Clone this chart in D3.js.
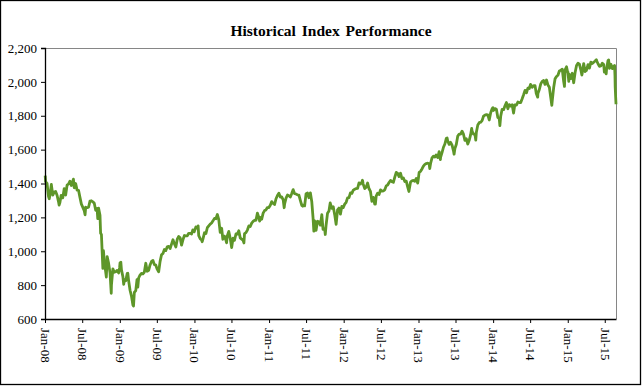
<!DOCTYPE html>
<html>
<head>
<meta charset="utf-8">
<script src="https://cdn.jsdelivr.net/npm/d3@7"></script>
<style>
  body { margin: 0; background: #fff; }
  #chart { width: 642px; height: 386px; }
  text { font-family: "Liberation Serif", "Times New Roman", serif; fill: #000; }
</style>
</head>
<body>
<div id="chart"></div>
<script>
// Data (approximate closes, [mm-dd, value])
const y2008 = [
  ["01-02",1447],["01-04",1411],["01-11",1401],["01-18",1325],["01-22",1310],["01-25",1330],
  ["02-01",1395],["02-08",1331],["02-15",1349],["02-22",1353],["02-29",1331],["03-07",1293],
  ["03-10",1273],["03-14",1288],["03-20",1330],["03-28",1315],["04-04",1370],["04-11",1332],
  ["04-18",1390],["04-25",1397],["05-02",1414],["05-09",1388],["05-19",1426],["05-23",1375],
  ["05-30",1400],["06-06",1361],["06-13",1360],["06-20",1318],["06-27",1278],["07-03",1262],
  ["07-11",1239],["07-15",1215],["07-18",1260],["07-25",1257],["08-01",1260],["08-08",1296],
  ["08-15",1298],["08-22",1292],["08-29",1283],["09-05",1242],["09-12",1252],["09-15",1193],
  ["09-19",1255],["09-26",1213],["09-29",1106],["10-03",1099],["10-10",899],["10-13",1003],
  ["10-17",940],["10-24",877],["10-27",848],["10-31",968],["11-07",930],["11-14",873],
  ["11-20",752],["11-21",800],["11-28",896],["12-05",876],["12-12",879],["12-19",887],
  ["12-26",872],["12-31",903]
];
const y2009 = [
  ["01-02",931],["01-06",935],["01-09",890],["01-16",850],["01-20",805],["01-23",832],
  ["01-30",826],["02-06",869],["02-09",870],["02-13",827],["02-20",770],["02-27",735],
  ["03-06",683],["03-09",677],["03-13",757],["03-20",768],["03-26",832],["03-30",788],
  ["04-03",842],["04-09",857],["04-17",869],["04-24",866],["05-01",877],["05-08",929],
  ["05-15",882],["05-22",887],["05-29",919],["06-05",940],["06-12",946],["06-19",921],
  ["06-26",918],["07-02",896],["07-10",879],["07-17",940],["07-24",979],["07-31",987],
  ["08-07",1010],["08-14",1004],["08-21",1026],["08-28",1029],["09-04",1016],["09-11",1042],
  ["09-18",1068],["09-25",1044],["10-02",1025],["10-09",1071],["10-16",1087],["10-23",1079],
  ["10-30",1036],["11-06",1069],["11-13",1093],["11-20",1091],["11-27",1091],["12-04",1106],
  ["12-11",1106],["12-18",1102],["12-24",1126],["12-31",1115]
];
const y2010 = [
  ["01-08",1144],["01-15",1136],["01-19",1150],["01-22",1092],["01-29",1074],["02-05",1066],
  ["02-08",1056],["02-12",1075],["02-19",1109],["02-26",1104],["03-05",1139],["03-12",1150],
  ["03-19",1160],["03-26",1167],["04-01",1178],["04-09",1194],["04-16",1192],["04-23",1217],
  ["04-30",1187],["05-07",1111],["05-14",1136],["05-20",1071],["05-21",1087],["05-28",1089],
  ["06-04",1065],["06-07",1050],["06-11",1092],["06-18",1117],["06-25",1076],["07-02",1022],
  ["07-09",1078],["07-16",1065],["07-23",1102],["07-30",1101],["08-06",1121],["08-13",1079],
  ["08-20",1071],["08-27",1065],["08-31",1049],["09-03",1104],["09-10",1110],["09-17",1125],
  ["09-24",1149],["10-01",1146],["10-08",1166],["10-15",1176],["10-22",1183],["10-29",1183],
  ["11-05",1225],["11-12",1199],["11-16",1178],["11-19",1200],["11-26",1189],["12-03",1225],
  ["12-10",1240],["12-17",1244],["12-23",1257],["12-31",1258]
];
const y2011 = [
  ["01-07",1272],["01-14",1293],["01-21",1283],["01-28",1276],["02-04",1310],["02-11",1329],
  ["02-18",1343],["02-25",1320],["03-04",1321],["03-11",1304],["03-16",1257],["03-18",1279],
  ["03-25",1314],["04-01",1332],["04-08",1328],["04-15",1320],["04-21",1338],["04-29",1364],
  ["05-06",1340],["05-13",1338],["05-20",1333],["05-27",1331],["06-03",1300],["06-10",1271],
  ["06-15",1266],["06-17",1272],["06-24",1268],["07-01",1340],["07-08",1344],["07-15",1316],
  ["07-22",1345],["07-29",1292],["08-04",1200],["08-08",1119],["08-10",1121],["08-12",1179],
  ["08-19",1124],["08-26",1177],["09-02",1174],["09-09",1154],["09-16",1216],["09-22",1129],
  ["09-30",1131],["10-03",1099],["10-07",1155],["10-14",1225],["10-21",1238],["10-27",1285],
  ["11-04",1253],["11-11",1263],["11-18",1216],["11-25",1159],["12-02",1244],["12-09",1255],
  ["12-16",1219],["12-23",1265],["12-30",1258]
];
const y2012 = [
  ["01-06",1278],["01-13",1289],["01-20",1315],["01-27",1316],["02-03",1345],["02-10",1342],
  ["02-17",1361],["02-24",1366],["03-02",1370],["03-09",1371],["03-16",1404],["03-23",1397],
  ["03-30",1408],["04-02",1419],["04-05",1398],["04-13",1370],["04-20",1378],["04-27",1403],
  ["05-04",1369],["05-11",1353],["05-18",1295],["05-25",1318],["06-01",1278],["06-04",1278],
  ["06-08",1325],["06-15",1343],["06-22",1335],["06-29",1362],["07-06",1355],["07-13",1357],
  ["07-20",1363],["07-27",1386],["08-03",1391],["08-10",1406],["08-17",1418],["08-24",1411],
  ["08-31",1407],["09-07",1438],["09-14",1466],["09-21",1460],["09-28",1441],["10-05",1461],
  ["10-12",1429],["10-19",1433],["10-26",1412],["11-02",1414],["11-09",1380],["11-15",1353],
  ["11-16",1360],["11-23",1409],["11-30",1416],["12-07",1418],["12-14",1413],["12-21",1430],
  ["12-28",1402],["12-31",1426]
];
const y2013 = [
  ["01-04",1466],["01-11",1472],["01-18",1486],["01-25",1503],["02-01",1513],["02-08",1518],
  ["02-15",1520],["02-22",1516],["02-25",1488],["03-01",1518],["03-08",1551],["03-15",1561],
  ["03-22",1556],["03-28",1569],["04-05",1553],["04-12",1588],["04-18",1541],["04-19",1555],
  ["04-26",1582],["05-03",1614],["05-10",1633],["05-17",1667],["05-21",1669],["05-24",1650],
  ["05-31",1631],["06-07",1643],["06-14",1626],["06-21",1593],["06-24",1573],["06-28",1606],
  ["07-05",1632],["07-12",1680],["07-19",1692],["07-26",1691],["08-02",1709],["08-09",1691],
  ["08-16",1655],["08-23",1664],["08-30",1633],["09-06",1655],["09-13",1688],["09-18",1725],
  ["09-20",1710],["09-27",1691],["10-04",1691],["10-08",1656],["10-11",1703],["10-18",1745],
  ["10-25",1759],["11-01",1762],["11-08",1771],["11-15",1798],["11-22",1804],["11-29",1806],
  ["12-06",1805],["12-13",1775],["12-20",1818],["12-27",1841],["12-31",1848]
];
const y2014 = [
  ["01-03",1831],["01-10",1842],["01-17",1838],["01-24",1790],["01-31",1783],["02-03",1742],
  ["02-07",1797],["02-14",1838],["02-21",1836],["02-28",1859],["03-07",1878],["03-14",1841],
  ["03-21",1866],["03-28",1857],["04-04",1865],["04-11",1816],["04-17",1864],["04-25",1863],
  ["05-02",1881],["05-09",1878],["05-16",1878],["05-23",1900],["05-30",1924],["06-06",1950],
  ["06-13",1936],["06-20",1963],["06-27",1961],["07-03",1985],["07-11",1968],["07-18",1978],
  ["07-25",1978],["07-31",1931],["08-07",1910],["08-08",1931],["08-15",1955],["08-22",1988],
  ["08-29",2003],["09-05",2008],["09-12",1985],["09-19",2011],["09-26",1982],["10-03",1968],
  ["10-10",1906],["10-15",1862],["10-17",1887],["10-24",1965],["10-31",2018],["11-07",2032],
  ["11-14",2039],["11-21",2064],["11-28",2068],["12-05",2075],["12-12",2003],["12-16",1973],
  ["12-19",2071],["12-26",2089],["12-31",2059]
];
const y2015 = [
  ["01-02",2058],["01-06",2003],["01-09",2044],["01-16",2019],["01-23",2051],["01-30",1995],
  ["02-06",2055],["02-13",2097],["02-20",2110],["02-27",2105],["03-06",2071],["03-11",2040],
  ["03-13",2053],["03-20",2108],["03-27",2061],["04-02",2067],["04-10",2102],["04-17",2081],
  ["04-24",2117],["05-01",2108],["05-08",2116],["05-15",2123],["05-21",2131],["05-22",2126],
  ["05-29",2107],["06-05",2092],["06-12",2094],["06-19",2110],["06-26",2102],["06-29",2058],
  ["07-02",2077],["07-08",2047],["07-10",2077],["07-17",2127],["07-20",2129],["07-24",2080],
  ["07-31",2104],["08-07",2078],["08-14",2092],["08-18",2097],["08-20",2036],["08-21",1971],
  ["08-24",1893],["08-25",1868]
];

const yTicks = [600, 800, 1000, 1200, 1400, 1600, 1800, 2000, 2200];
const xTickDates = [
  "2008-01-01","2008-07-01","2009-01-01","2009-07-01","2010-01-01","2010-07-01",
  "2011-01-01","2011-07-01","2012-01-01","2012-07-01","2013-01-01","2013-07-01",
  "2014-01-01","2014-07-01","2015-01-01","2015-07-01"
];
const xTickLabels = [
  "Jan-08","Jul-08","Jan-09","Jul-09","Jan-10","Jul-10","Jan-11","Jul-11",
  "Jan-12","Jul-12","Jan-13","Jul-13","Jan-14","Jul-14","Jan-15","Jul-15"
];

const parseDate = d3.timeParse("%Y-%m-%d");
const years = [[2008, y2008], [2009, y2009], [2010, y2010], [2011, y2011],
               [2012, y2012], [2013, y2013], [2014, y2014], [2015, y2015]];
const dataset = years.flatMap(([yr, rows]) =>
  rows.map(([md, v]) => ({ date: parseDate(`${yr}-${md}`), value: v }))
);
const xAccessor = (d) => d.date;
const yAccessor = (d) => d.value;

// Dimensions
const dimensions = {
  width: 642,
  height: 386,
  margin: { top: 48, right: 26, bottom: 67, left: 45 }
};
dimensions.containerWidth = dimensions.width - dimensions.margin.left - dimensions.margin.right;
dimensions.containerHeight = dimensions.height - dimensions.margin.top - dimensions.margin.bottom;

const svg = d3.select("#chart")
  .append("svg")
  .attr("width", dimensions.width)
  .attr("height", dimensions.height);

// Outer border
svg.append("rect")
  .attr("x", 0.5).attr("y", 0.5)
  .attr("width", 640).attr("height", 384)
  .attr("fill", "#fff")
  .attr("stroke", "#000")
  .attr("stroke-width", 1.3);

// Title
svg.append("text")
  .attr("x", 331)
  .attr("y", 36)
  .attr("text-anchor", "middle")
  .style("font-size", "15.5px")
  .style("font-weight", "bold")
  .style("word-spacing", "2px")
  .text("Historical Index Performance");

const container = svg.append("g")
  .attr("transform", `translate(${dimensions.margin.left}, ${dimensions.margin.top})`);

// Scales
const xScale = d3.scaleTime()
  .domain([parseDate("2008-01-01"), parseDate("2015-08-25")])
  .range([0, dimensions.containerWidth]);

const yScale = d3.scaleLinear()
  .domain([600, 2200])
  .range([dimensions.containerHeight, 0]);

// Plot area border (top & right, gray)
container.append("path")
  .attr("d", `M0,0.5H${dimensions.containerWidth + 0.5}V${dimensions.containerHeight}`)
  .attr("fill", "none")
  .attr("stroke", "#868686")
  .attr("stroke-width", 1);

// Line
const line = d3.line()
  .x((d) => xScale(xAccessor(d)))
  .y((d) => yScale(yAccessor(d)));

container.append("path")
  .datum(dataset)
  .attr("d", line)
  .attr("fill", "none")
  .attr("stroke", "#5e9629")
  .attr("stroke-width", 2.8)
  .attr("stroke-linejoin", "round");

// Axes
const yAxis = d3.axisLeft(yScale)
  .tickValues(yTicks)
  .tickSize(4)
  .tickPadding(4)
  .tickFormat(d3.format(","));

const yAxisGroup = container.append("g").call(yAxis);
yAxisGroup.select(".domain").attr("stroke", "#000").attr("stroke-width", 1.3);
yAxisGroup.selectAll("text").style("font-size", "13px").attr("font-family", null);

const labelByDate = new Map(xTickDates.map((s, i) => [+parseDate(s), xTickLabels[i]]));
const xAxis = d3.axisBottom(xScale)
  .tickValues(xTickDates.map(parseDate))
  .tickSize(4)
  .tickSizeOuter(0)
  .tickFormat((d) => labelByDate.get(+d));

const xAxisGroup = container.append("g")
  .attr("transform", `translate(0, ${dimensions.containerHeight})`)
  .call(xAxis);
xAxisGroup.select(".domain").attr("stroke", "#000").attr("stroke-width", 1.3);
xAxisGroup.selectAll("text")
  .attr("font-family", null)
  .style("font-size", "13px")
  .attr("text-anchor", "start")
  .attr("transform", "rotate(90)")
  .attr("x", 9)
  .attr("y", 0)
  .attr("dy", "0.35em");
</script>
</body>
</html>
